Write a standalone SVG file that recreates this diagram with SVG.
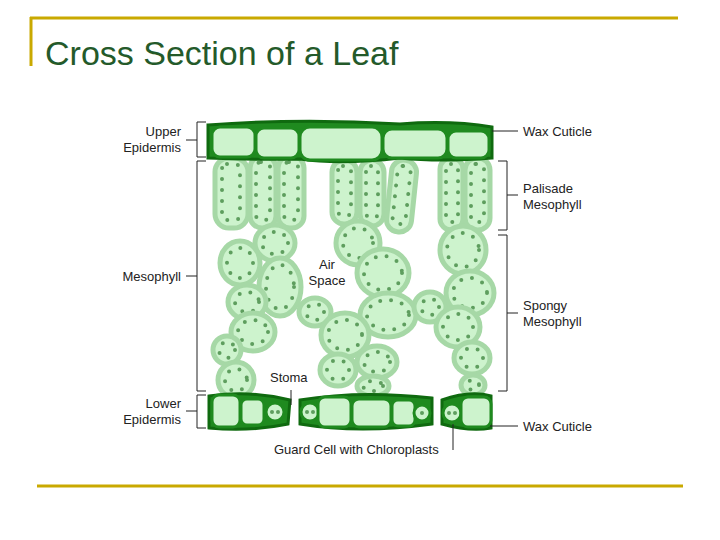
<svg xmlns="http://www.w3.org/2000/svg" width="720" height="540" viewBox="0 0 720 540">
<style>
.c{fill:#cdf3cd;stroke:#a6d8a6;stroke-width:5}
.d{fill:none;stroke:#5e9e5e;stroke-width:4;stroke-dasharray:0 11;stroke-linecap:round}
.e{fill:#cdf3cd;stroke:#1f8a1f;stroke-width:3}
.cut{fill:#1f8a1f;stroke:#0f6a0f;stroke-width:3}
.t{font-family:"Liberation Sans",Arial,sans-serif;font-size:13px;fill:#222}
.l{fill:none;stroke:#222;stroke-width:1}
.g{stroke:#c9a900;stroke-width:3}
</style>
<rect width="720" height="540" fill="#fff"/>
<line class="g" x1="30" y1="18" x2="678" y2="18"/><line class="g" x1="31" y1="17" x2="31" y2="66"/>
<line class="g" x1="37" y1="486" x2="683" y2="486"/>
<text x="45" y="65" font-family="Liberation Sans,Arial,sans-serif" font-size="34" fill="#245a2a">Cross Section of a Leaf</text>
<g id="palisade">
<rect class="c" x="215" y="158" width="33" height="70" rx="14"/><rect class="d" x="222" y="164" width="18" height="56" rx="5"/>
<rect class="c" x="250" y="156" width="26" height="72" rx="12"/><rect class="d" x="256" y="162" width="14" height="58" rx="5"/>
<rect class="c" x="278" y="156" width="26" height="72" rx="12"/><rect class="d" x="284" y="162" width="14" height="58" rx="5"/>
<rect class="c" x="332" y="160" width="25" height="64" rx="12"/><rect class="d" x="338" y="166" width="13" height="50" rx="5"/>
<rect class="c" x="360" y="160" width="24" height="66" rx="12"/><rect class="d" x="366" y="166" width="12" height="52" rx="5"/>
<rect class="c" x="389" y="160" width="25" height="72" rx="12" transform="rotate(6 401 196)"/><rect class="d" x="395" y="166" width="13" height="58" rx="5" transform="rotate(6 401 196)"/>
<rect class="c" x="440" y="158" width="23" height="72" rx="11"/><rect class="d" x="446" y="164" width="12" height="58" rx="5"/>
<rect class="c" x="465" y="158" width="25" height="72" rx="12"/><rect class="d" x="471" y="164" width="13" height="58" rx="5"/>
</g>
<g id="spongy">
<ellipse class="c" cx="275" cy="243" rx="20" ry="18"/><ellipse class="d" cx="275" cy="243" rx="13" ry="11"/>
<ellipse class="c" cx="240" cy="263" rx="20" ry="22"/><ellipse class="d" cx="240" cy="263" rx="13" ry="15"/>
<ellipse class="c" cx="280" cy="287" rx="21" ry="29"/><ellipse class="d" cx="280" cy="287" rx="14" ry="22"/>
<ellipse class="c" cx="247" cy="302" rx="19" ry="17"/><ellipse class="d" cx="247" cy="302" rx="12" ry="10"/>
<ellipse class="c" cx="253" cy="332" rx="22" ry="19"/><ellipse class="d" cx="253" cy="332" rx="15" ry="12"/>
<ellipse class="c" cx="227" cy="350" rx="14" ry="14"/><ellipse class="d" cx="227" cy="350" rx="8" ry="8"/>
<ellipse class="c" cx="236" cy="380" rx="18" ry="18"/><ellipse class="d" cx="236" cy="380" rx="11" ry="11"/>
<ellipse class="c" cx="315" cy="312" rx="16" ry="14"/><ellipse class="d" cx="315" cy="312" rx="9" ry="8"/>
<ellipse class="c" cx="358" cy="243" rx="22" ry="22"/><ellipse class="d" cx="358" cy="243" rx="15" ry="15"/>
<ellipse class="c" cx="383" cy="273" rx="26" ry="24"/><ellipse class="d" cx="383" cy="273" rx="19" ry="17"/>
<ellipse class="c" cx="388" cy="315" rx="28" ry="22"/><ellipse class="d" cx="388" cy="315" rx="21" ry="15"/>
<ellipse class="c" cx="345" cy="335" rx="24" ry="22"/><ellipse class="d" cx="345" cy="335" rx="17" ry="15"/>
<ellipse class="c" cx="338" cy="370" rx="18" ry="16"/><ellipse class="d" cx="338" cy="370" rx="11" ry="10"/>
<ellipse class="c" cx="377" cy="362" rx="20" ry="16"/><ellipse class="d" cx="377" cy="362" rx="13" ry="10"/>
<ellipse class="c" cx="373" cy="386" rx="16" ry="10"/><ellipse class="d" cx="373" cy="386" rx="10" ry="5"/>
<ellipse class="c" cx="430" cy="307" rx="16" ry="15"/><ellipse class="d" cx="430" cy="307" rx="9" ry="8"/>
<ellipse class="c" cx="463" cy="250" rx="23" ry="24"/><ellipse class="d" cx="463" cy="250" rx="16" ry="17"/>
<ellipse class="c" cx="470" cy="293" rx="24" ry="22"/><ellipse class="d" cx="470" cy="293" rx="17" ry="15"/>
<ellipse class="c" cx="458" cy="327" rx="22" ry="20"/><ellipse class="d" cx="458" cy="327" rx="15" ry="13"/>
<ellipse class="c" cx="472" cy="358" rx="18" ry="16"/><ellipse class="d" cx="472" cy="358" rx="11" ry="10"/>
<ellipse class="c" cx="473" cy="385" rx="12" ry="10"/><ellipse class="d" cx="473" cy="385" rx="6" ry="5"/>
</g>
<g id="upper-epidermis">
<path class="cut" d="M208 125 Q300 118 400 124 Q450 120 492 127 L492 158 Q440 162 400 158 Q340 165 300 159 Q250 160 208 158 Z"/>
<rect class="e" x="212" y="127" width="43" height="30" rx="8"/>
<rect class="e" x="256" y="128" width="43" height="30" rx="8"/>
<rect class="e" x="300" y="127" width="82" height="33" rx="10"/>
<rect class="e" x="383" y="129" width="64" height="29" rx="9"/>
<rect class="e" x="448" y="131" width="41" height="27" rx="8"/>
</g>
<g id="lower-epidermis">
<path class="cut" d="M209 396 Q250 390 290 400 L288 424 Q250 432 209 428 Z"/>
<path class="cut" d="M300 400 Q360 390 432 398 L432 424 Q360 434 300 424 Z"/>
<path class="cut" d="M442 400 Q470 390 491 396 L491 428 Q470 432 442 424 Z"/>
<rect class="e" x="212" y="395" width="28" height="32" rx="7"/>
<rect class="e" x="241" y="399" width="23" height="26" rx="6"/>
<circle class="e" cx="275" cy="412" r="9"/><circle cx="272" cy="412" r="2" fill="#5e9e5e"/><circle cx="278" cy="412" r="2" fill="#5e9e5e"/>
<circle class="e" cx="310" cy="412" r="9"/><circle cx="307" cy="412" r="2" fill="#5e9e5e"/><circle cx="313" cy="412" r="2" fill="#5e9e5e"/>
<rect class="e" x="318" y="397" width="33" height="30" rx="7"/>
<rect class="e" x="352" y="399" width="39" height="28" rx="7"/>
<rect class="e" x="392" y="400" width="23" height="26" rx="6"/>
<circle class="e" cx="422" cy="413" r="8"/><circle cx="422" cy="413" r="2" fill="#5e9e5e"/>
<circle class="e" cx="452" cy="413" r="9"/><circle cx="449" cy="413" r="2" fill="#5e9e5e"/><circle cx="455" cy="413" r="2" fill="#5e9e5e"/>
<rect class="e" x="461" y="397" width="30" height="30" rx="7"/>
</g>
<g id="labels">
<path class="l" d="M206 122 H197 V157 H206 M197 140 H186"/>
<path class="l" d="M206 161 H197 V391 H206 M197 276 H186"/>
<path class="l" d="M206 395 H197 V428 H206 M197 411 H186"/>
<path class="l" d="M498 161 H507 V230 H498 M507 195 H518"/>
<path class="l" d="M498 235 H507 V391 H498 M507 313 H518"/>
<path class="l" d="M492 131 H518 M490 426 H518 M291 390 V405 M453 424 V450"/>
<text class="t" x="181" y="136" text-anchor="end">Upper</text>
<text class="t" x="181" y="152" text-anchor="end">Epidermis</text>
<text class="t" x="181" y="281" text-anchor="end">Mesophyll</text>
<text class="t" x="181" y="408" text-anchor="end">Lower</text>
<text class="t" x="181" y="424" text-anchor="end">Epidermis</text>
<text class="t" x="523" y="136">Wax Cuticle</text>
<text class="t" x="523" y="193">Palisade</text>
<text class="t" x="523" y="209">Mesophyll</text>
<text class="t" x="523" y="310">Spongy</text>
<text class="t" x="523" y="326">Mesophyll</text>
<text class="t" x="523" y="431">Wax Cuticle</text>
<text class="t" x="327" y="269" text-anchor="middle">Air</text>
<text class="t" x="327" y="285" text-anchor="middle">Space</text>
<text class="t" x="270" y="382">Stoma</text>
<text class="t" x="274" y="454">Guard Cell with Chloroplasts</text>
</g>
</svg>
